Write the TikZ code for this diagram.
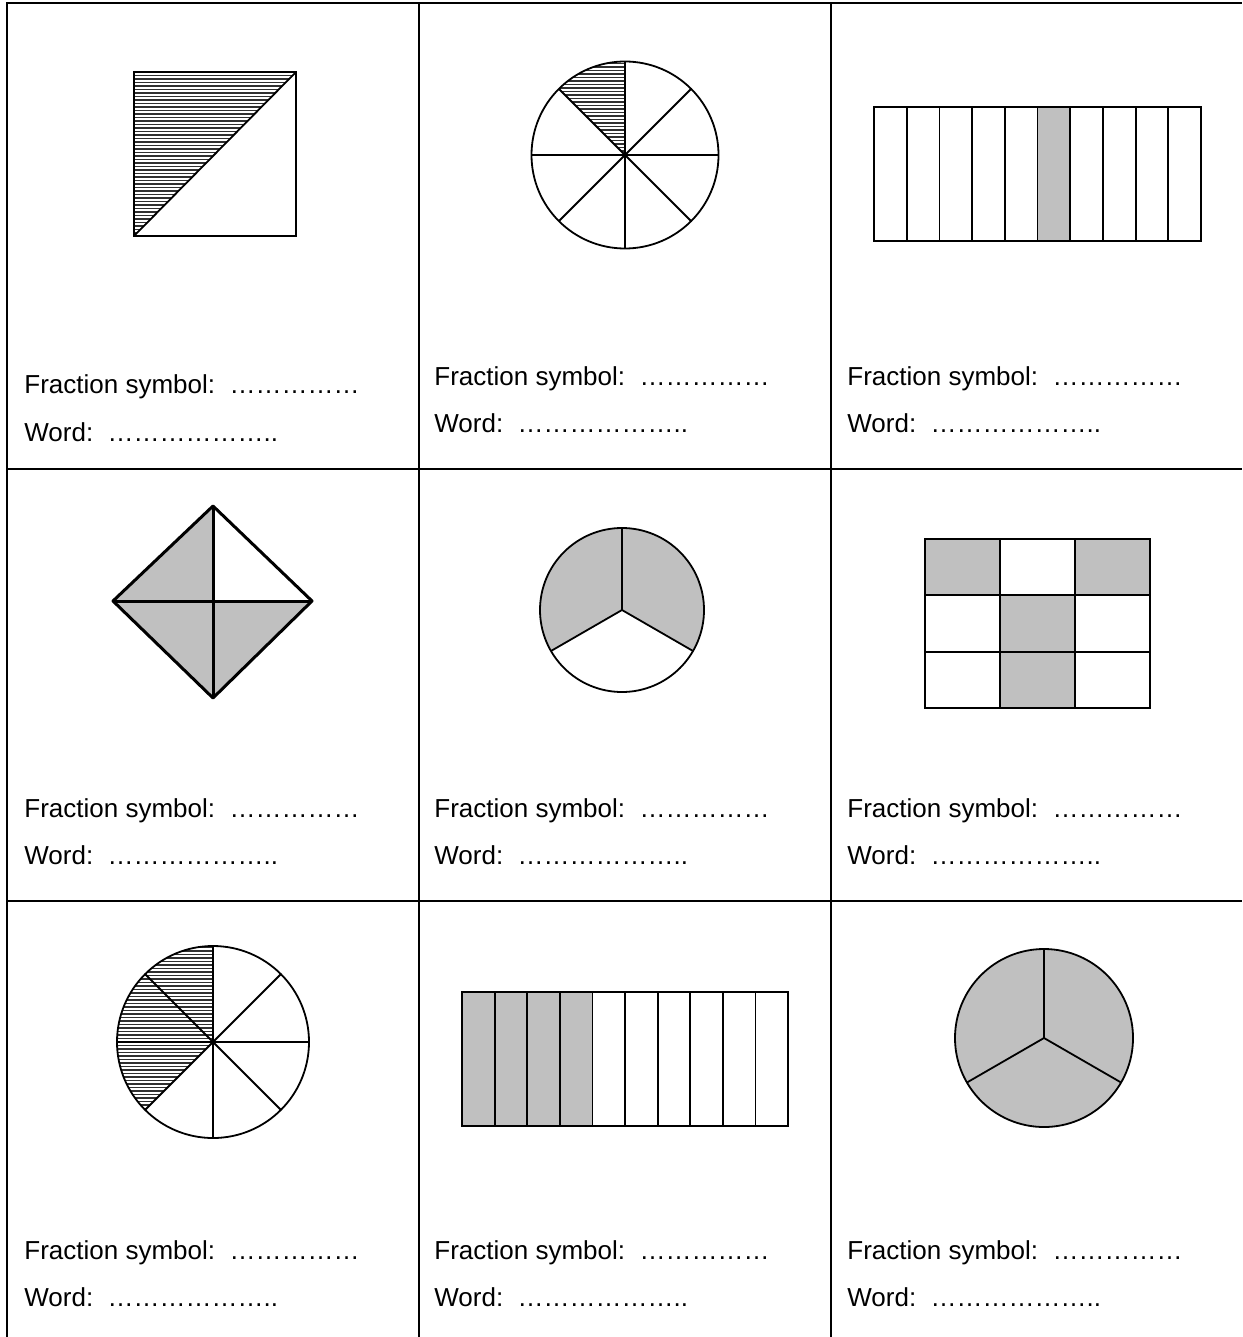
\documentclass[tikz,border=0pt]{standalone}
\usepackage{fontspec}
\setmainfont{Liberation Sans}
\newfontfamily\cellfont{Liberation Sans}
\definecolor{partgray}{HTML}{C0C0C0}
\definecolor{hatchgray}{HTML}{303030}

\begin{document}
\begin{tikzpicture}[x=0.5pt,y=-0.5pt,
    tableline/.style={line width=1pt},
    outline/.style={line width=0.9pt},
    hatch/.style={line width=0.6pt,hatchgray},
    answer/.style={font=\cellfont\fontsize{13}{15}\selectfont,anchor=base west,inner sep=0pt}]
  \useasboundingbox (0,0) rectangle (1242,1337);
  % table
  \foreach \y in {3,469,901}
    \draw[tableline] (6,\y) -- (1242,\y);
  \foreach \x in {7,419,831}
    \draw[tableline] (\x,2.5) -- (\x,1337);
  % row 1, cell 1: square cut on the diagonal
  \begin{scope}
    \clip (134,72) -- (296,72) -- (134,236) -- cycle;
    \foreach \y in {72,75.5,...,240}
      \draw[hatch] (130,\y) -- (300,\y);
  \end{scope}
  \draw[outline,line join=miter] (134,72) rectangle (296,236);
  \draw[outline] (134,236) -- (296,72);
  % row 1, cell 2: circle in eighths
  \begin{scope}
    \clip (625,155) -- ++(225:93.5) arc[start angle=225,end angle=270,radius=93.5] -- cycle;
    \foreach \y in {60,63.5,...,160}
      \draw[hatch] (520,\y) -- (630,\y);
  \end{scope}
  \draw[outline] (625,155) circle[radius=93.5];
  \foreach \a in {0,45,...,315}
    \draw[outline] (625,155) -- ++(\a:93.5);
  % row 1, cell 3: strip of ten
  \fill[partgray] (1037,107) rectangle (1069.7,241);
  \draw[outline] (874,107) rectangle (1201,241);
  \foreach \i in {1,...,9}
    \draw[outline] ({874+\i*32.7},107) -- ++(0,134);
  % row 2, cell 1: diamond in quarters
  \fill[partgray] (213,506) -- (113,601) -- (213,601) -- cycle;
  \fill[partgray] (113,601) -- (213,698) -- (213,601) -- cycle;
  \fill[partgray] (213,698) -- (312,601) -- (213,601) -- cycle;
  \draw[line width=1.5pt,line join=round] (213,506) -- (312,601) -- (213,698) -- (113,601) -- cycle;
  \draw[line width=1.5pt] (213,506) -- (213,698) (113,601) -- (312,601);
  % row 2, cell 2: circle in thirds
  \fill[partgray] (622,610) -- ++(150:82) arc[start angle=150,end angle=390,radius=82] -- cycle;
  \draw[outline] (622,610) circle[radius=82];
  \foreach \a in {-90,30,150}
    \draw[outline] (622,610) -- ++(\a:82);
  % row 2, cell 3: grid of nine
  \foreach \c/\r in {0/0,2/0,1/1,1/2}
    \fill[partgray] ({925+75*\c},{539+56.33*\r}) rectangle ++(75,56.33);
  \draw[outline] (925,539) rectangle (1150,708);
  \foreach \i in {1,2} {
    \draw[outline] ({925+75*\i},539) -- ++(0,169);
    \draw[outline] (925,{539+56.33*\i}) -- ++(225,0);
  }
  % row 3, cell 1: circle in eighths
  \begin{scope}
    \clip (213,1042) -- ++(135:96) arc[start angle=135,end angle=270,radius=96] -- cycle;
    \foreach \y in {944,947.5,...,1120}
      \draw[hatch] (110,\y) -- (220,\y);
  \end{scope}
  \draw[outline] (213,1042) circle[radius=96];
  \foreach \a in {0,45,...,315}
    \draw[outline] (213,1042) -- ++(\a:96);
  % row 3, cell 2: strip of ten
  \fill[partgray] (462,992) rectangle ({462+4*32.6},1126);
  \draw[outline] (462,992) rectangle (788,1126);
  \foreach \i in {1,...,9}
    \draw[outline] ({462+\i*32.6},992) -- ++(0,134);
  % row 3, cell 3: circle in thirds, all shaded
  \fill[partgray] (1044,1038) circle[radius=89];
  \draw[outline] (1044,1038) circle[radius=89];
  \foreach \a in {-90,30,150}
    \draw[outline] (1044,1038) -- ++(\a:89);
  % answer lines
  \foreach \n/\x/\yf/\yw in {a/24/393/441,b/434/385/432,c/847/385/432,
      d/24/817/864,e/434/817/864,f/847/817/864,
      g/24/1259/1306,h/434/1259/1306,i/847/1259/1306} {
    \node[answer] (frac-\n) at (\x,\yf) {Fraction symbol:\ \ ……………};
    \node[answer] (word-\n) at (\x,\yw) {Word:\ \ ………………..};
  }
\end{tikzpicture}
\end{document}
